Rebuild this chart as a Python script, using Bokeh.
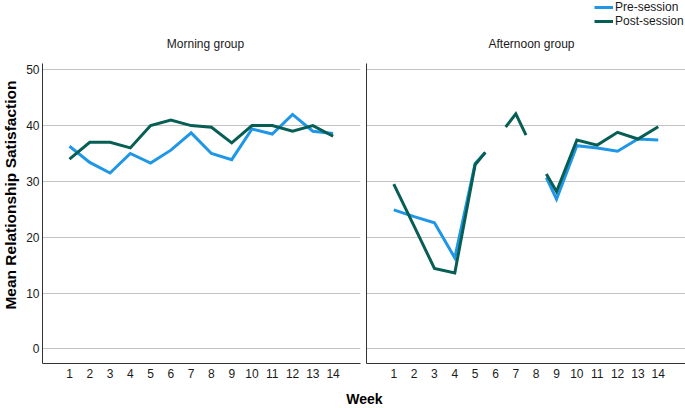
import math
from bokeh.plotting import figure
from bokeh.models import (Range1d, FixedTicker, Label, Legend, LegendItem,
                          ColumnDataSource)
from bokeh.layouts import row, column
from bokeh.embed import file_html
from bokeh.resources import INLINE

# ---------------- data ----------------
weeks = list(range(1, 15))
y_ticks = [0, 10, 20, 30, 40, 50]
panel_titles = ["Morning group", "Afternoon group"]
series_names = ["Pre-session", "Post-session"]

morning_pre = [36.3, 33.4, 31.5, 35.0, 33.3, 35.6, 38.7, 35.0, 33.9, 39.4, 38.5, 42.0, 39.0, 38.6]
morning_post = [34.0, 37.0, 37.0, 36.0, 40.0, 41.0, 40.0, 39.7, 36.9, 40.0, 40.0, 39.0, 40.0, 38.1]

afternoon_pre = [24.9, 23.7, 22.6, 16.3, 33.2, 37.2, None, 34.6, 26.8, 36.4, 36.0, 35.4, 37.6, 37.4]
afternoon_post = [29.5, 22.0, 14.4, 13.6, 33.0, 37.4, 42.1, 34.5, 28.2, 37.4, 36.5, 38.8, 37.6, 39.8]

# weeks whose points are not drawn (line only reaches half way towards them)
morning_pre_hidden = []
morning_post_hidden = []
afternoon_pre_hidden = [6, 7, 8]
afternoon_post_hidden = [6, 8]

# ---------------- style ----------------
FONT = "Liberation Sans"
PRE_COLOR = "#1f96e6"
POST_COLOR = "#075e54"
GRID_COLOR = "#c3c3c3"
AXIS_COLOR = "#333333"
TEXT_COLOR = "#1a1a1a"
W, H = 685, 408
TOP_H = 63        # space above the panels
PANEL_H = 324     # panel figure height (300 px frame + 24 px axis)
YLAB_W = 22


def build_path(values, hidden):
    nan = float("nan")
    n = len(weeks)
    shown = [(weeks[i] not in hidden) and (values[i] is not None) for i in range(n)]
    xs, ys = [], []
    for i in range(n):
        if not shown[i]:
            continue
        if i > 0 and not shown[i - 1] and values[i - 1] is not None:
            xs.append((weeks[i - 1] + weeks[i]) / 2)
            ys.append((values[i - 1] + values[i]) / 2)
        xs.append(weeks[i])
        ys.append(values[i])
        if i < n - 1 and not shown[i + 1]:
            if values[i + 1] is not None:
                xs.append((weeks[i] + weeks[i + 1]) / 2)
                ys.append((values[i] + values[i + 1]) / 2)
            xs.append(nan)
            ys.append(nan)
    return ColumnDataSource(dict(x=xs, y=ys))


def blank_fig(width, height, y_top, y_bottom):
    f = figure(width=width, height=height, x_range=Range1d(0, width),
               y_range=Range1d(y_bottom, y_top),
               output_backend="svg", toolbar_location=None,
               x_axis_location=None, y_axis_location=None, min_border=0)
    f.outline_line_color = None
    f.xgrid.visible = False
    f.ygrid.visible = False
    return f


def make_panel(width, x_start, x_end, min_left, min_right, with_y_labels):
    p = figure(width=width, height=PANEL_H,
               x_range=Range1d(x_start, x_end), y_range=Range1d(-2.63, 51.13),
               output_backend="svg", toolbar_location=None,
               min_border_left=min_left, min_border_right=min_right,
               min_border_top=0, min_border_bottom=24)
    p.outline_line_color = None

    p.xgrid.visible = False
    p.ygrid.ticker = FixedTicker(ticks=y_ticks)
    p.ygrid.grid_line_color = GRID_COLOR
    p.ygrid.grid_line_width = 1

    for ax in (p.xaxis[0], p.yaxis[0]):
        ax.axis_line_color = AXIS_COLOR
        ax.axis_line_width = 1
        ax.major_tick_line_color = None
        ax.minor_tick_line_color = None
        ax.major_tick_out = 0
        ax.major_tick_in = 0
        ax.minor_tick_out = 0
        ax.minor_tick_in = 0
        ax.major_label_text_font = FONT
        ax.major_label_text_font_size = "12px"
        ax.major_label_text_color = TEXT_COLOR

    p.xaxis[0].ticker = FixedTicker(ticks=weeks)
    p.xaxis[0].major_label_standoff = 5
    if with_y_labels:
        p.yaxis[0].ticker = FixedTicker(ticks=y_ticks)
        p.yaxis[0].major_label_standoff = 3
    else:
        p.yaxis[0].ticker = FixedTicker(ticks=[])
        p.yaxis[0].major_label_standoff = 0
    return p


# ---- top strip: panel titles and legend (page pixel coordinates) ----
top = blank_fig(W, TOP_H, 0, TOP_H)
top.add_layout(Label(x=205, y=43, text=panel_titles[0], text_align="center",
                     text_baseline="middle", text_font=FONT, text_font_size="12px",
                     text_color=TEXT_COLOR))
top.add_layout(Label(x=531, y=43, text=panel_titles[1], text_align="center",
                     text_baseline="middle", text_font=FONT, text_font_size="12px",
                     text_color=TEXT_COLOR))
# legend-only renderers (a single missing point, so nothing is drawn in the strip)
lg_pre = top.line(x=[float("nan")], y=[float("nan")], line_color=PRE_COLOR, line_width=3)
lg_post = top.line(x=[float("nan")], y=[float("nan")], line_color=POST_COLOR, line_width=3)
legend = Legend(items=[LegendItem(label=series_names[0], renderers=[lg_pre]),
                       LegendItem(label=series_names[1], renderers=[lg_post])],
                location=(594, TOP_H - 28), orientation="vertical",
                glyph_width=19, glyph_height=14, label_height=14,
                label_standoff=2, spacing=0, padding=0, margin=0,
                border_line_color=None, background_fill_alpha=0,
                label_text_font=FONT, label_text_font_size="12px",
                label_text_color=TEXT_COLOR)
top.add_layout(legend)

# ---- y axis title strip ----
ylab = blank_fig(YLAB_W, 300, TOP_H, TOP_H + 300)
ylab.add_layout(Label(x=10, y=206, text="Mean Relationship Satisfaction", angle=math.pi / 2,
                      text_align="center", text_baseline="middle",
                      text_font=FONT, text_font_size="15.5px", text_font_style="bold",
                      text_color="black"))

# ---- panels ----
p1 = make_panel(341, -0.33, 15.35, 20, 3, True)
p2 = make_panel(322, -0.34, 15.34, 3, 0, False)

line_kw = dict(line_width=3, line_join="miter")
p1.line("x", "y", source=build_path(morning_pre, morning_pre_hidden), line_color=PRE_COLOR, **line_kw)
p1.line("x", "y", source=build_path(morning_post, morning_post_hidden), line_color=POST_COLOR, **line_kw)
p2.line("x", "y", source=build_path(afternoon_pre, afternoon_pre_hidden), line_color=PRE_COLOR, **line_kw)
p2.line("x", "y", source=build_path(afternoon_post, afternoon_post_hidden), line_color=POST_COLOR, **line_kw)

# ---- x axis title strip ----
BOT_H = H - TOP_H - PANEL_H
bottom = blank_fig(W, BOT_H, TOP_H + PANEL_H, H)
bottom.add_layout(Label(x=364, y=398, text="Week", text_align="center", text_baseline="middle",
                        text_font=FONT, text_font_size="14px", text_font_style="bold",
                        text_color="black"))

layout = column(top, row(ylab, p1, p2, spacing=0), bottom, spacing=0)

open("out.html", "w").write(file_html(layout, INLINE))
